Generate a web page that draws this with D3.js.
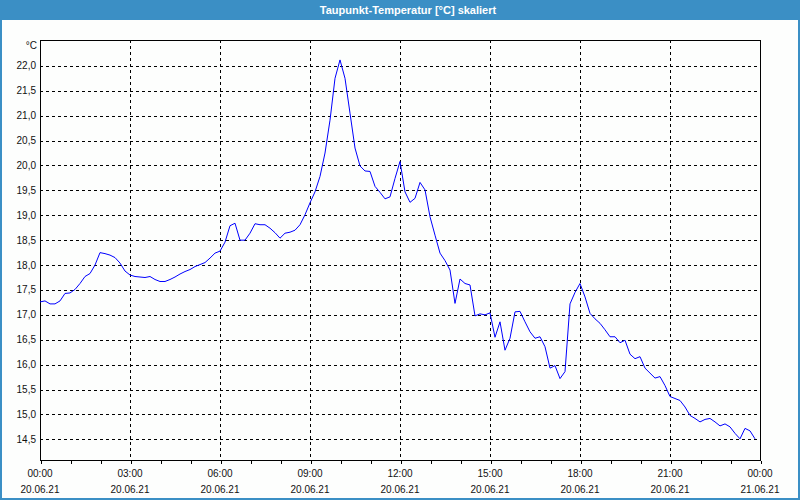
<!DOCTYPE html>
<html><head><meta charset="utf-8">
<script src="https://cdn.jsdelivr.net/npm/d3@7"></script>
<style>
body{margin:0;background:#fff}
svg{display:block}
text{font-family:"Liberation Sans",Arial,sans-serif}
</style>
</head><body>
<svg id="c" width="800" height="500"></svg>
<script>
// ---- data ----
const title = "Taupunkt-Temperatur [°C] skaliert";
const unitLabel = "°C";
const startTime = new Date(2021, 5, 20, 0, 0);
const endTime = new Date(2021, 5, 21, 0, 0);
const stepMinutes = 10;
const dewPoint = [
  17.26,17.28,17.22,17.22,17.28,17.43,17.44,17.51,17.63,17.77,17.83,18.00,
  18.25,18.23,18.20,18.15,18.04,17.88,17.80,17.77,17.76,17.75,17.77,17.71,
  17.67,17.67,17.71,17.76,17.82,17.87,17.91,17.97,18.01,18.05,18.14,18.24,
  18.28,18.46,18.79,18.84,18.50,18.50,18.64,18.83,18.81,18.81,18.74,18.65,
  18.54,18.64,18.66,18.70,18.81,19.01,19.25,19.47,19.78,20.25,20.91,21.75,
  22.12,21.75,21.05,20.35,19.99,19.89,19.88,19.58,19.46,19.33,19.37,19.74,
  20.08,19.47,19.26,19.34,19.66,19.51,18.97,18.60,18.24,18.09,17.90,17.23,
  17.72,17.63,17.60,16.98,17.02,17.00,17.04,16.55,16.86,16.29,16.53,17.06,
  17.07,16.86,16.66,16.53,16.56,16.36,15.93,15.98,15.72,15.86,17.22,17.45,
  17.63,17.36,17.03,16.92,16.83,16.70,16.56,16.56,16.44,16.49,16.21,16.12,
  16.16,15.93,15.83,15.73,15.76,15.58,15.36,15.32,15.28,15.15,14.98,14.92,
  14.85,14.90,14.92,14.85,14.77,14.81,14.75,14.62,14.51,14.72,14.67,14.51
];
const yTicks = [14.5,15.0,15.5,16.0,16.5,17.0,17.5,18.0,18.5,19.0,19.5,20.0,20.5,21.0,21.5,22.0];
const yDomain = [14.085, 22.52];
const majorHours = 3;

// ---- layout ----
const W = 800, H = 500;
const plot = {left: 40, right: 760, top: 40, bottom: 460};
const svg = d3.select("#c");

const data = dewPoint.map((v, i) => ({t: new Date(startTime.getTime() + i * stepMinutes * 60000), v}));

const x = d3.scaleTime().domain([startTime, endTime]).range([plot.left, plot.right]);
const y = d3.scaleLinear().domain(yDomain).range([plot.bottom, plot.top]);

const loc = d3.formatLocale({decimal: ",", thousands: ".", grouping: [3], currency: ["", "€"]});
const fmtY = loc.format(".1f");
const fmtH = d3.timeFormat("%H:%M");
const fmtD = d3.timeFormat("%d.%m.%y");

// background
svg.append("rect").attr("width", W).attr("height", H).attr("fill", "#fdfefd");

// title bar
svg.append("rect").attr("x", 0).attr("y", 0).attr("width", W).attr("height", 20).attr("fill", "#3b8fc5");
svg.append("text").attr("x", 408).attr("y", 14).attr("text-anchor", "middle")
  .attr("fill", "#fff").attr("font-size", 11).attr("font-weight", "bold").text(title);

// outer border
svg.append("path").attr("d", `M1,20V499H799V20`).attr("fill", "none")
  .attr("stroke", "#3b8fc5").attr("stroke-width", 2);

const crisp = v => Math.round(v) + 0.5;

// horizontal grid
const gy = svg.append("g").attr("shape-rendering", "crispEdges");
gy.selectAll("line").data(yTicks).join("line")
  .attr("x1", plot.left).attr("x2", plot.right)
  .attr("y1", d => crisp(y(d))).attr("y2", d => crisp(y(d)))
  .attr("stroke", "#000").attr("stroke-dasharray", "3,3");

// vertical grid
const hourTicks = x.ticks(d3.timeHour.every(1));
const majorTicks = hourTicks.filter(d => d.getHours() % majorHours === 0);
const gx = svg.append("g").attr("shape-rendering", "crispEdges");
gx.selectAll("line").data(majorTicks.filter(d => +d !== +startTime && +d !== +endTime)).join("line")
  .attr("x1", d => crisp(x(d))).attr("x2", d => crisp(x(d)))
  .attr("y1", plot.top).attr("y2", plot.bottom)
  .attr("stroke", "#000").attr("stroke-dasharray", "3,3");

// frame
svg.append("rect").attr("x", plot.left + 0.5).attr("y", plot.top + 0.5)
  .attr("width", plot.right - plot.left).attr("height", plot.bottom - plot.top)
  .attr("fill", "none").attr("stroke", "#000").attr("shape-rendering", "crispEdges");

// x axis ticks (hourly)
const xAxis = d3.axisBottom(x).tickValues(hourTicks).tickSize(3).tickFormat("");
const ax = svg.append("g").attr("transform", `translate(0.5,${plot.bottom + 0.5})`).call(xAxis);
ax.select(".domain").remove();
ax.selectAll("line").attr("stroke", "#000").attr("shape-rendering", "crispEdges");

// x labels
const xl = svg.append("g").attr("font-size", 10).attr("fill", "#111").attr("text-anchor", "middle");
xl.selectAll("text.h").data(majorTicks).join("text").attr("class", "h")
  .attr("x", d => x(d)).attr("y", 477).text(d => fmtH(d));
xl.selectAll("text.d").data(majorTicks).join("text").attr("class", "d")
  .attr("x", d => x(d)).attr("y", 493).text(d => fmtD(d));

// y labels
const yl = svg.append("g").attr("font-size", 10).attr("fill", "#111").attr("text-anchor", "end");
yl.selectAll("text").data(yTicks).join("text")
  .attr("x", 36).attr("y", d => y(d) + 3.5).text(d => fmtY(d));
svg.append("text").attr("x", 37).attr("y", 49).attr("text-anchor", "end")
  .attr("font-size", 10).attr("fill", "#111").text(unitLabel);

// line
svg.append("path").datum(data)
  .attr("d", d3.line().x(d => x(d.t)).y(d => y(d.v)))
  .attr("fill", "none").attr("stroke", "#0000ff").attr("stroke-width", 1);
</script>
</body></html>
